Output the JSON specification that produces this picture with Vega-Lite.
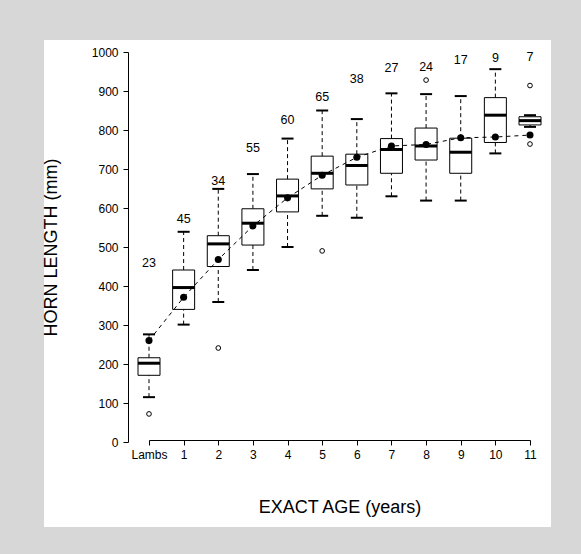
{
  "$schema": "https://vega.github.io/schema/vega-lite/v6.json",
  "width": 507,
  "height": 487,
  "autosize": {"type": "none"},
  "padding": {"left": 44, "top": 40, "right": 30, "bottom": 27},
  "background": "#d7d7d7",
  "config": {
    "view": {"fill": "white", "stroke": null},
    "font": "Liberation Sans",
    "axis": {
      "domainColor": "black",
      "tickColor": "black",
      "labelColor": "black",
      "titleColor": "black",
      "labelFont": "Liberation Sans",
      "titleFont": "Liberation Sans",
      "labelFontSize": 12,
      "titleFontSize": 18,
      "titleFontWeight": "normal",
      "tickSize": 5,
      "grid": false,
      "domainWidth": 1,
      "tickWidth": 1
    }
  },
  "data": {
    "values": [
      {"age": "Lambs", "lower": 115, "q1": 171, "median": 202, "q3": 216, "upper": 276, "mean": 260, "n": 23, "label_y": 460},
      {"age": "1", "lower": 301, "q1": 340, "median": 396, "q3": 441, "upper": 539, "mean": 371, "n": 45, "label_y": 572},
      {"age": "2", "lower": 359, "q1": 450, "median": 508, "q3": 529, "upper": 649, "mean": 468, "n": 34, "label_y": 669},
      {"age": "3", "lower": 441, "q1": 505, "median": 561, "q3": 598, "upper": 687, "mean": 554, "n": 55, "label_y": 753},
      {"age": "4", "lower": 500, "q1": 590, "median": 631, "q3": 674, "upper": 778, "mean": 626, "n": 60, "label_y": 826},
      {"age": "5", "lower": 580, "q1": 649, "median": 689, "q3": 733, "upper": 850, "mean": 684, "n": 65, "label_y": 885},
      {"age": "6", "lower": 575, "q1": 659, "median": 709, "q3": 738, "upper": 828, "mean": 730, "n": 38, "label_y": 932},
      {"age": "7", "lower": 630, "q1": 689, "median": 750, "q3": 778, "upper": 894, "mean": 759, "n": 27, "label_y": 960},
      {"age": "8", "lower": 619, "q1": 723, "median": 759, "q3": 805, "upper": 892, "mean": 763, "n": 24, "label_y": 962},
      {"age": "9", "lower": 619, "q1": 689, "median": 743, "q3": 779, "upper": 887, "mean": 780, "n": 17, "label_y": 979},
      {"age": "10", "lower": 740, "q1": 768, "median": 838, "q3": 883, "upper": 956, "mean": 782, "n": 9, "label_y": 984},
      {"age": "11", "lower": 808, "q1": 813, "median": 824, "q3": 834, "upper": 838, "mean": 787, "n": 7, "label_y": 988}
    ]
  },
  "encoding": {
    "x": {
      "field": "age",
      "type": "nominal",
      "scale": {"type": "point", "domain": ["Lambs", "1", "2", "3", "4", "5", "6", "7", "8", "9", "10", "11"], "range": [105, 486], "padding": 0},
      "axis": {"offset": -87, "labelAngle": 0, "labelPadding": 4, "title": "EXACT AGE (years)", "titlePadding": 38}
    }
  },
  "layer": [
    {
      "mark": {"type": "rule", "color": "black", "strokeWidth": 1, "strokeDash": [4, 3]},
      "encoding": {
        "y": {"field": "lower", "type": "quantitative", "scale": {"domain": [0, 1000], "range": [402, 12], "nice": false, "zero": false},
          "axis": {"offset": -84, "values": [0, 100, 200, 300, 400, 500, 600, 700, 800, 900, 1000], "format": "d", "labelPadding": 5, "title": "HORN LENGTH (mm)", "titlePadding": 31}},
        "y2": {"field": "q1"}
      }
    },
    {
      "mark": {"type": "rule", "color": "black", "strokeWidth": 1, "strokeDash": [4, 3]},
      "encoding": {
        "y": {"field": "q3", "type": "quantitative"},
        "y2": {"field": "upper"}
      }
    },
    {
      "mark": {"type": "tick", "color": "black", "size": 12, "thickness": 2, "opacity": 1},
      "encoding": {"y": {"field": "lower", "type": "quantitative"}}
    },
    {
      "mark": {"type": "tick", "color": "black", "size": 12, "thickness": 2, "opacity": 1},
      "encoding": {"y": {"field": "upper", "type": "quantitative"}}
    },
    {
      "mark": {"type": "bar", "size": 22, "fill": "white", "stroke": "black", "strokeWidth": 1},
      "encoding": {
        "y": {"field": "q1", "type": "quantitative"},
        "y2": {"field": "q3"}
      }
    },
    {
      "mark": {"type": "tick", "color": "black", "size": 22, "thickness": 3, "opacity": 1},
      "encoding": {"y": {"field": "median", "type": "quantitative"}}
    },
    {
      "data": {
        "values": [
          {"age": "Lambs", "value": 72},
          {"age": "2", "value": 241},
          {"age": "5", "value": 490},
          {"age": "8", "value": 928},
          {"age": "11", "value": 914},
          {"age": "11", "value": 764}
        ]
      },
      "mark": {"type": "point", "shape": "circle", "filled": false, "color": "black", "size": 22, "strokeWidth": 1, "opacity": 1},
      "encoding": {"y": {"field": "value", "type": "quantitative"}}
    },
    {
      "mark": {"type": "line", "color": "black", "strokeWidth": 1, "strokeDash": [4, 4]},
      "encoding": {"y": {"field": "mean", "type": "quantitative"}}
    },
    {
      "mark": {"type": "circle", "color": "black", "size": 50, "opacity": 1},
      "encoding": {"y": {"field": "mean", "type": "quantitative"}}
    },
    {
      "mark": {"type": "text", "color": "black", "fontSize": 12.5, "font": "Liberation Sans", "baseline": "middle", "align": "center"},
      "encoding": {
        "y": {"field": "label_y", "type": "quantitative"},
        "text": {"field": "n", "type": "quantitative"}
      }
    }
  ]
}
